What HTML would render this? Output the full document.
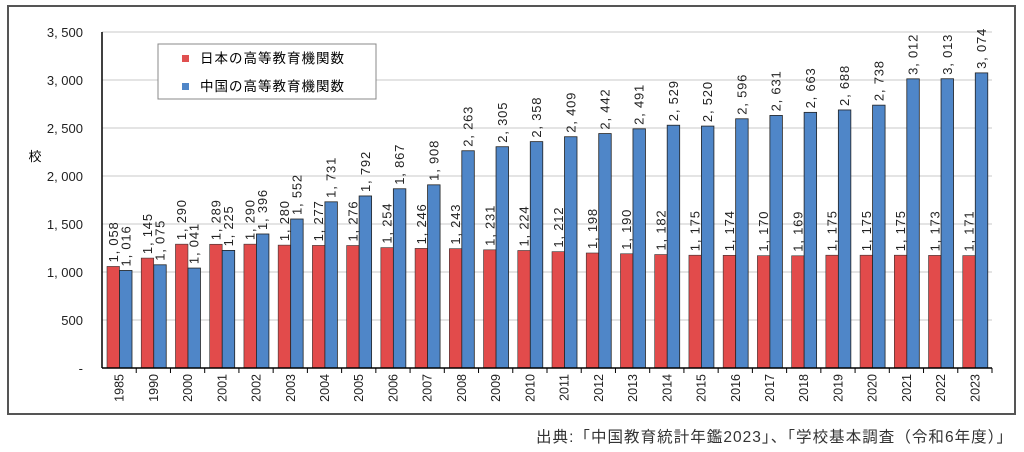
<!DOCTYPE html>
<html><head><meta charset="utf-8"><style>
html,body{margin:0;padding:0;background:#fff;}
svg{display:block;font-family:"Liberation Sans","Noto Sans CJK JP",sans-serif;}
</style></head><body>
<svg id="c" width="1024" height="452" viewBox="0 0 1024 452" xmlns="http://www.w3.org/2000/svg">
<rect x="8" y="6" width="1007" height="408" fill="#fff" stroke="#555" stroke-width="2"/>
<g id="grid"></g>
<g id="bars"></g>
<line x1="102" y1="32" x2="102" y2="368" stroke="#000" stroke-width="1.5"/>
<line x1="102" y1="368" x2="992" y2="368" stroke="#000" stroke-width="1.5"/>
<text x="35" y="161" font-size="13" text-anchor="middle">校</text>
<rect x="158" y="44" width="218" height="55" fill="#fff" stroke="#888" stroke-width="1"/>
<rect x="182" y="55" width="7" height="7" fill="#e05050"/>
<text x="200" y="63" font-size="13.5" letter-spacing="1">日本の高等教育機関数</text>
<rect x="182" y="83" width="7" height="7" fill="#4f86c8"/>
<text x="200" y="91" font-size="13.5" letter-spacing="1">中国の高等教育機関数</text>
<text x="1012" y="442" font-size="15.5" text-anchor="end" fill="#333" textLength="476" lengthAdjust="spacing">出典:「中国教育統計年鑑2023」、「学校基本調査（令和6年度）」</text>
</svg>
<script>
var years=["1985","1990","2000","2001","2002","2003","2004","2005","2006","2007","2008","2009","2010","2011","2012","2013","2014","2015","2016","2017","2018","2019","2020","2021","2022","2023"];
var jp=[1058,1145,1290,1289,1290,1280,1277,1276,1254,1246,1243,1231,1224,1212,1198,1190,1182,1175,1174,1170,1169,1175,1175,1175,1173,1171];
var cn=[1016,1075,1041,1225,1396,1552,1731,1792,1867,1908,2263,2305,2358,2409,2442,2491,2529,2520,2596,2631,2663,2688,2738,3012,3013,3074];
var NS="http://www.w3.org/2000/svg";
function el(p,t,a,txt){var e=document.createElementNS(NS,t);for(var k in a)e.setAttribute(k,a[k]);if(txt!==undefined)e.textContent=txt;p.appendChild(e);return e;}
var g=document.getElementById("grid"),b=document.getElementById("bars");
var base=368,sc=336/3500,x0=102,cw=890/26;
function fmt(v){var s=String(v);return s.length>3?s.slice(0,s.length-3)+", "+s.slice(-3):s;}
for(var i=0;i<=7;i++){var y=base-i*500*sc;
 if(i>0)el(g,"line",{x1:102,y1:y,x2:992,y2:y,stroke:"#c8c8c8","stroke-width":1});
 var lab=i==0?"-":(i*500>=1000?Math.floor(i*500/1000)+", "+String(i*500%1000).padStart(3,"0"):String(i*500));
 el(g,"text",{x:83,y:y+5,"font-size":13,"text-anchor":"end",fill:"#222"},lab);
}
for(var i=0;i<26;i++){
 var cx=x0+i*cw, xr=cx+5, bw=12.5;
 var hj=jp[i]*sc, hc=cn[i]*sc;
 el(b,"rect",{x:xr,y:base-hj,width:bw,height:hj,fill:"#e24b4b",stroke:"#333","stroke-width":0.6});
 el(b,"rect",{x:xr+bw,y:base-hc,width:bw,height:hc,fill:"#4f86c8",stroke:"#222","stroke-width":0.8});
 el(b,"line",{x1:cx+cw,y1:368,x2:cx+cw,y2:373,stroke:"#000"});
 var tx=xr+bw/2+4.5, ty=base-hj-4;
 el(b,"text",{transform:"translate("+tx+","+ty+") rotate(-90)","font-size":13,"letter-spacing":0.8,fill:"#222"},fmt(jp[i]));
 tx=xr+bw*1.5+4.5; ty=base-hc-4;
 el(b,"text",{transform:"translate("+tx+","+ty+") rotate(-90)","font-size":13,"letter-spacing":0.8,fill:"#222"},fmt(cn[i]));
 el(b,"text",{transform:"translate("+(cx+cw/2+4.5)+",374) rotate(-90)","font-size":12.5,"text-anchor":"end",fill:"#222"},years[i]);
}
</script>
</body></html>
